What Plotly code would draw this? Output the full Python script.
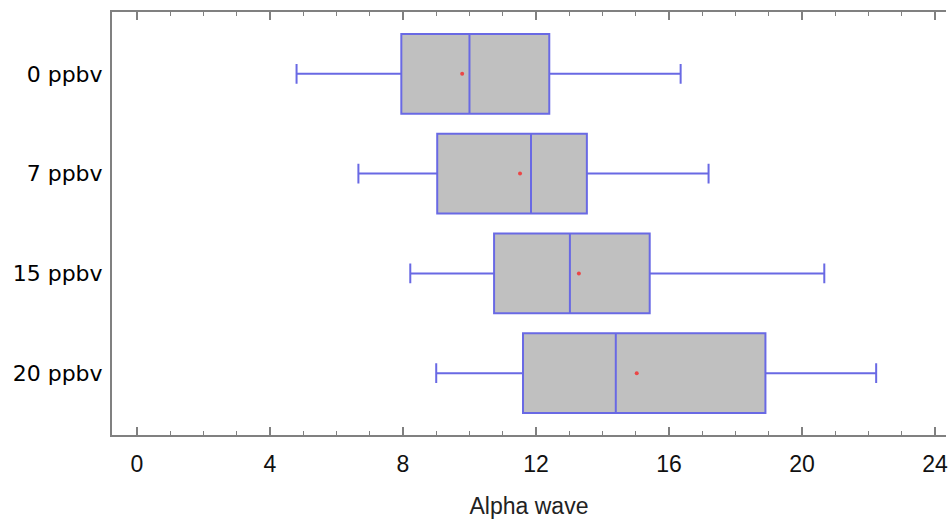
import plotly.graph_objects as go

# Alpha-wave summary statistics by exposure level
groups = ["0 ppbv", "7 ppbv", "15 ppbv", "20 ppbv"]
lower_whisker = [4.8, 6.66, 8.22, 9.0]
q1 = [7.95, 9.03, 10.74, 11.61]
median = [10.0, 11.85, 13.02, 14.4]
q3 = [12.4, 13.53, 15.42, 18.9]
upper_whisker = [16.35, 17.19, 20.67, 22.23]
mean = [9.78, 11.52, 13.29, 15.03]

edge = "rgb(105,105,228)"
axis_col = "rgb(128,128,128)"

fig = go.Figure()
fig.add_trace(go.Box(
    y=groups,
    q1=q1, median=median, q3=q3,
    lowerfence=lower_whisker, upperfence=upper_whisker,
    orientation="h",
    fillcolor="rgb(192,192,192)",
    line=dict(color=edge, width=2),
    width=0.8,
    whiskerwidth=0.25,
    boxpoints=False,
    showlegend=False,
    hoverinfo="skip",
))
fig.add_trace(go.Scatter(
    x=mean, y=groups, mode="markers",
    marker=dict(color="rgb(235,70,70)", size=4),
    showlegend=False, hoverinfo="skip",
))

fig.update_layout(
    width=948, height=519,
    margin=dict(l=112, r=0, t=12, b=84),
    paper_bgcolor="white", plot_bgcolor="white",
    font=dict(family="Liberation Sans, Arial, sans-serif", color="black"),
)
fig.update_xaxes(
    range=[-0.75, 24.33],
    tickvals=[0, 4, 8, 12, 16, 20, 24],
    ticks="inside", ticklen=8, tickwidth=1.5, tickcolor=axis_col,
    minor=dict(dtick=1, ticks="inside", ticklen=4, tickwidth=1, tickcolor=axis_col),
    showline=True, linecolor=axis_col, linewidth=2, mirror="ticks",
    showgrid=False, zeroline=False,
    tickfont=dict(size=23, color="#111"),
    ticklabelstandoff=7,
    ticklabeloverflow="allow",
    title=dict(text="Alpha wave", font=dict(size=23, color="#222"), standoff=23),
)
fig.update_yaxes(
    categoryorder="array", categoryarray=groups,
    range=[3.62, -0.62],
    showline=True, linecolor=axis_col, linewidth=2,
    ticks="", showgrid=False, zeroline=False,
    tickfont=dict(family="DejaVu Sans, sans-serif", size=22, color="black"),
    ticklabelstandoff=3,
)

fig.write_html("out.html")
